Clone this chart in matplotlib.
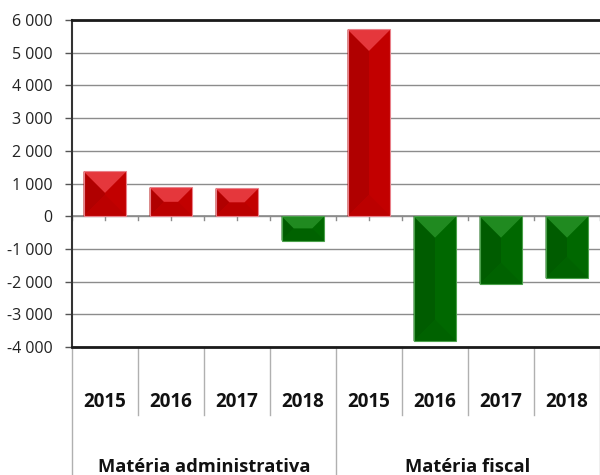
import matplotlib
matplotlib.use("Agg")
import matplotlib.pyplot as plt
from matplotlib.patches import Polygon, Rectangle

years = ["2015", "2016", "2017", "2018"]
groups = ["Matéria administrativa", "Matéria fiscal"]
admin_values = [1370, 880, 850, -745]
fiscal_values = [5710, -3820, -2080, -1900]
yticks = [6000, 5000, 4000, 3000, 2000, 1000, 0, -1000, -2000, -3000, -4000]

values = admin_values + fiscal_values
labels = years + years

plt.rcParams['font.family'] = ['Open Sans', 'DejaVu Sans']

fig = plt.figure(figsize=(6, 4.75), dpi=100)
ax = fig.add_axes([0.12, 1 - 347 / 475, 0.88, 327 / 475])
ax.set_xlim(-0.5, len(values) - 0.5)
ax.set_ylim(-4000, 6000)

ax.set_yticks(yticks)
ax.set_yticklabels([f"{t:,}".replace(",", " ") for t in yticks])
ax.tick_params(axis='y', length=5, width=1, color='#555555', pad=9,
               labelsize=11.5, labelcolor='#222222')
ax.set_xticks([])
ax.grid(axis='y', color='#8c8c8c', linewidth=1)
ax.set_axisbelow(True)

ax.spines['right'].set_visible(False)
ax.spines['top'].set_linewidth(2)
ax.spines['top'].set_color('#1a1a1a')
ax.spines['bottom'].set_linewidth(2)
ax.spines['bottom'].set_color('#1a1a1a')
ax.spines['left'].set_linewidth(1.5)
ax.spines['left'].set_color('#333333')

ax.axhline(0, color='#8c8c8c', linewidth=1.2, zorder=1)

w = 0.65
px_x = 1.0 / (0.88 * 600 / len(values))
px_y = 10000.0 / 327

red = dict(main='#c20000', top='#e5373c', left='#b00000', bottom='#bb0000', edge='#e9808a')
green = dict(main='#006800', top='#208a20', left='#005c00', bottom='#006200', edge='#4aa04a')

for i, v in enumerate(values):
    c = red if v >= 0 else green
    x0, x1 = i - w / 2, i + w / 2
    top, bot = max(v, 0), min(v, 0)
    w_px = w / px_x
    h_px = (top - bot) / px_y
    d = min(w_px / 2, h_px / 2)
    dx, dy = d * px_x, d * px_y
    ax.add_patch(Rectangle((x0, bot), w, top - bot, facecolor=c['main'],
                           edgecolor='none', zorder=3))
    ax.add_patch(Polygon([(x0, top), (x0 + dx, top - dy), (x0 + dx, bot + dy), (x0, bot)],
                         closed=True, facecolor=c['left'], edgecolor='none', zorder=4))
    ax.add_patch(Polygon([(x0, bot), (x1, bot), (x1 - dx, bot + dy), (x0 + dx, bot + dy)],
                         closed=True, facecolor=c['bottom'], edgecolor='none', zorder=4))
    ax.add_patch(Polygon([(x0, top), (x1, top), (x1 - dx, top - dy), (x0 + dx, top - dy)],
                         closed=True, facecolor=c['top'], edgecolor='none', zorder=4))
    ax.add_patch(Rectangle((x0, bot), w, top - bot, facecolor='none',
                           edgecolor=c['edge'], linewidth=0.8, zorder=5))

for k in range(len(values) * 2 + 1):
    xk = -0.5 + k * 0.5
    ax.plot([xk, xk], [0, -4 * px_y], color='#8c8c8c', linewidth=1, zorder=2)

trans = ax.get_xaxis_transform()
for i, lab in enumerate(labels):
    ax.text(i, -0.168, lab, transform=trans, ha='center', va='center',
            fontsize=13.5, fontweight='bold', color='#111111')
for k in range(1, len(values)):
    if k % len(years) == 0:
        continue
    ax.plot([k - 0.5, k - 0.5], [0, -0.208], transform=trans, color='#b0b0b0',
            linewidth=1, clip_on=False)
for g in range(len(groups) + 1):
    xg = -0.5 + g * len(years)
    ax.plot([xg, xg], [0, -0.45], transform=trans, color='#b0b0b0',
            linewidth=1, clip_on=False)
for g, name in enumerate(groups):
    xc = -0.5 + g * len(years) + len(years) / 2
    ax.text(xc, -0.368, name, transform=trans, ha='center', va='center',
            fontsize=13.2, fontweight='bold', color='#111111')

fig.savefig("out.png", dpi=100)
